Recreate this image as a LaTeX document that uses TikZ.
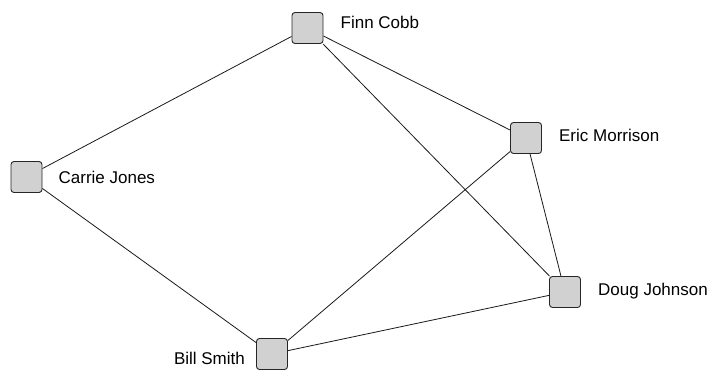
\documentclass[tikz,border=0pt]{standalone}
\usepackage{fontspec}
\setmainfont{Liberation Sans}
\usetikzlibrary{positioning}

\begin{document}
\begin{tikzpicture}[x=1pt,y=-1pt]
    % Define node styles
    \tikzstyle{person}=[rectangle, rounded corners=3pt, draw=black!85, line width=0.9pt, fill=black!18, minimum size=31pt, inner sep=0pt]
    \tikzstyle{person label}=[inner sep=0pt, font=\fontsize{17}{20}\selectfont]
    \tikzstyle{tie}=[line width=0.8pt, black!90]

    \useasboundingbox (0,0) rectangle (711,369);

    % Draw people
    \node[person] (finn) at (307.5,28) {};
    \node[person] (carrie) at (26.5,177) {};
    \node[person] (eric) at (526,138) {};
    \node[person] (doug) at (565,292) {};
    \node[person] (bill) at (272,354) {};

    % Names
    \node[person label, right=17pt of finn, yshift=6pt] (finn-label) {Finn Cobb};
    \node[person label, right=16pt of carrie] (carrie-label) {Carrie Jones};
    \node[person label, right=17pt of eric, yshift=3pt] (eric-label) {Eric Morrison};
    \node[person label, right=17pt of doug, yshift=1pt] (doug-label) {Doug Johnson};
    \node[person label, left=11pt of bill, yshift=-4pt] (bill-label) {Bill Smith};

    % Connect people
    \draw[tie] (finn) -- (carrie);
    \draw[tie] (finn) -- (eric);
    \draw[tie] (finn) -- (doug);
    \draw[tie] (carrie) -- (bill);
    \draw[tie] (eric) -- (bill);
    \draw[tie] (eric) -- (doug);
    \draw[tie] (doug) -- (bill);
\end{tikzpicture}
\end{document}
